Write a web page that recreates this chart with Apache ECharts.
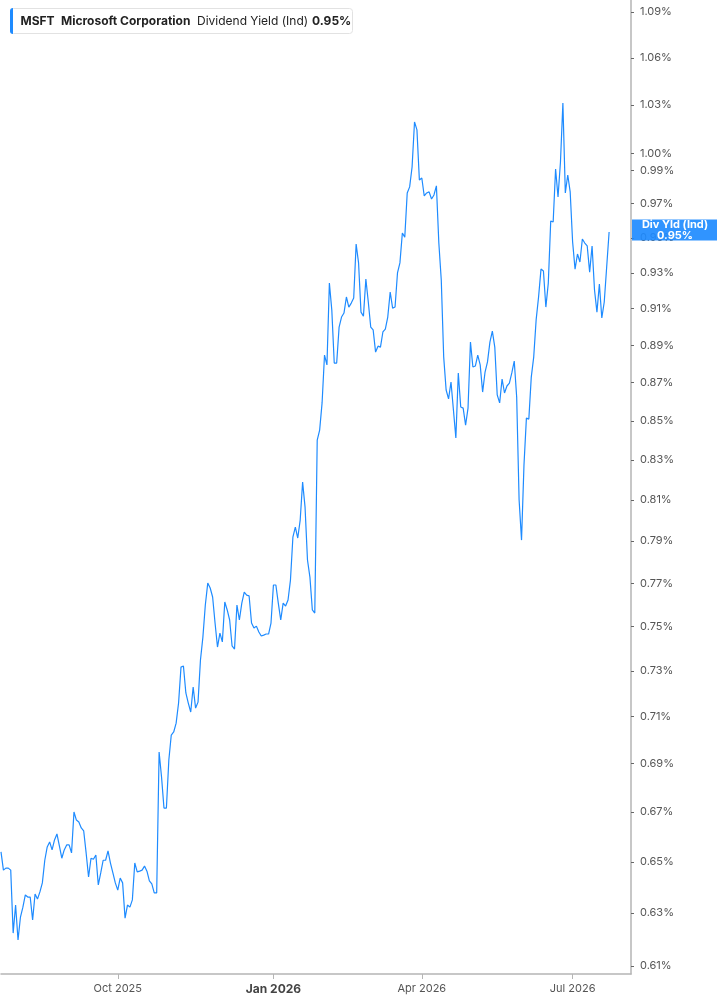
<!DOCTYPE html>
<html>
<head>
<meta charset="utf-8">
<script src="https://cdn.jsdelivr.net/npm/echarts@6/dist/echarts.min.js"></script>
<style>
    html, body { margin: 0; padding: 0; background: #fff; }
    #divYieldChart { width: 717px; height: 1005px; }
</style>
</head>
<body>
<div id="divYieldChart"></div>
<script>
const ticker = "MSFT";
const companyName = "Microsoft Corporation";
const metricName = "Dividend Yield (Ind)";
const pointerName = "Div Yld (Ind)";

// trading days: weekdays minus US market holidays
const firstDay = "2025-07-24";
const lastDay = "2026-08-05";
const holidays = [
    "2025-09-01", "2025-11-27", "2025-12-25", "2026-01-01", "2026-01-19",
    "2026-02-16", "2026-04-03", "2026-05-25", "2026-06-19", "2026-07-03"
];

// daily dividend yield, %
const yieldValues = [
    0.6539, 0.6467, 0.6475, 0.6475, 0.6467, 0.6224, 0.6331, 0.6198, 0.6285, 0.6323,
    0.6370, 0.6362, 0.6362, 0.6274, 0.6374, 0.6354, 0.6382, 0.6417, 0.6506, 0.6559,
    0.6579, 0.6547, 0.6587, 0.6611, 0.6563, 0.6514, 0.6547, 0.6567, 0.6567, 0.6535,
    0.6700, 0.6667, 0.6659, 0.6635, 0.6623, 0.6535, 0.6440, 0.6514, 0.6510, 0.6527,
    0.6409, 0.6456, 0.6506, 0.6506, 0.6543, 0.6495, 0.6456, 0.6417, 0.6389, 0.6436,
    0.6417, 0.6281, 0.6331, 0.6323, 0.6351, 0.6495, 0.6460, 0.6463, 0.6467, 0.6483,
    0.6463, 0.6425, 0.6413, 0.6378, 0.6378, 0.6949, 0.6844, 0.6716, 0.6716, 0.6915,
    0.7021, 0.7034, 0.7072, 0.7159, 0.7317, 0.7322, 0.7203, 0.7159, 0.7120, 0.7229,
    0.7137, 0.7163, 0.7349, 0.7452, 0.7599, 0.7701, 0.7678, 0.7636, 0.7516, 0.7407,
    0.7470, 0.7430, 0.7613, 0.7576, 0.7530, 0.7412, 0.7398, 0.7599, 0.7530, 0.7608,
    0.7659, 0.7645, 0.7641, 0.7516, 0.7493, 0.7502, 0.7475, 0.7457, 0.7461, 0.7466,
    0.7466, 0.7516, 0.7692, 0.7692, 0.7608, 0.7530, 0.7608, 0.7594, 0.7622, 0.7715,
    0.7919, 0.7968, 0.7915, 0.8002, 0.8189, 0.8065, 0.7810, 0.7729, 0.7576, 0.7562,
    0.8401, 0.8452, 0.8593, 0.8847, 0.8794, 0.9243, 0.9092, 0.8804, 0.8804, 0.8999,
    0.9054, 0.9076, 0.9165, 0.9109, 0.9131, 0.9159, 0.9465, 0.9357, 0.9081, 0.9059,
    0.9266, 0.9137, 0.8999, 0.8983, 0.8863, 0.8895, 0.8890, 0.8972, 0.8988, 0.9054,
    0.9193, 0.9103, 0.9109, 0.9300, 0.9357, 0.9529, 0.9505, 0.9764, 0.9800, 0.9919,
    1.0195, 1.0146, 0.9841, 0.9853, 0.9746, 0.9764, 0.9770, 0.9728, 0.9752, 0.9806,
    0.9471, 0.9260, 0.8836, 0.8661, 0.8614, 0.8703, 0.8556, 0.8412, 0.8751, 0.8572,
    0.8566, 0.8478, 0.8566, 0.8917, 0.8783, 0.8788, 0.8847, 0.8794, 0.8650, 0.8756,
    0.8810, 0.8917, 0.8977, 0.8890, 0.8635, 0.8593, 0.8719, 0.8645, 0.8682, 0.8697,
    0.8751, 0.8815, 0.8624, 0.8100, 0.7905, 0.8274, 0.8514, 0.8509, 0.8729, 0.8836,
    0.9038, 0.9165, 0.9322, 0.9311, 0.9109, 0.9243, 0.9599, 0.9593, 0.9907, 0.9740,
    0.9949, 1.0313, 0.9764, 0.9871, 0.9770, 0.9477, 0.9322, 0.9408, 0.9362, 0.9494,
    0.9471, 0.9454, 0.9305, 0.9454, 0.9204, 0.9081, 0.9238, 0.9049, 0.9137, 0.9334,
    0.9535
];

const yTickValues = [
    1.09, 1.06, 1.03, 1.00, 0.99, 0.97, 0.95, 0.93, 0.91, 0.89, 0.87, 0.85,
    0.83, 0.81, 0.79, 0.77, 0.75, 0.73, 0.71, 0.69, 0.67, 0.65, 0.63, 0.61
];
const yMin = 0.6071;
const yMax = 1.098;

const monthNames = ["Jan", "Feb", "Mar", "Apr", "May", "Jun", "Jul", "Aug", "Sep", "Oct", "Nov", "Dec"];
const labelMonths = [0, 3, 6, 9];

function buildTradingDays(from, to, skip) {
    const days = [];
    const d = new Date(from + "T00:00:00Z");
    const end = new Date(to + "T00:00:00Z");
    while (d <= end) {
        const key = d.toISOString().slice(0, 10);
        const wd = d.getUTCDay();
        if (wd !== 0 && wd !== 6 && !skip.includes(key)) days.push(key);
        d.setUTCDate(d.getUTCDate() + 1);
    }
    return days;
}

function renderDivYieldChart() {
    const dom = document.getElementById("divYieldChart");
    const chart = echarts.init(dom);

    const days = buildTradingDays(firstDay, lastDay, holidays);
    // first trading day of each quarter gets a label
    const labelIdx = new Set();
    days.forEach((d, i) => {
        if (i === 0) return;
        const m = Number(d.slice(5, 7)) - 1;
        if (d.slice(5, 7) !== days[i - 1].slice(5, 7) && labelMonths.includes(m)) labelIdx.add(i);
    });

    const lastValue = yieldValues[yieldValues.length - 1];
    const fontFamily = "Inter, 'Noto Sans', sans-serif";
    const blue = "#1e8bff";

    const legendBox = {
        id: "legendBox",
        type: "group",
        left: 10,
        top: 8,
        children: [
            {
                type: "rect",
                shape: { x: 0.5, y: 0.5, width: 342, height: 25, r: 3 },
                style: { fill: "#fff", stroke: "#e2e2e2", lineWidth: 1 }
            },
            {
                type: "rect",
                shape: { x: 0, y: 0, width: 3, height: 26, r: [3, 0, 0, 3] },
                style: { fill: blue }
            },
            {
                type: "text",
                x: 10.5, y: 13,
                style: { text: ticker, font: "bold 12px " + fontFamily, fill: "#222", verticalAlign: "middle" }
            },
            {
                type: "text",
                x: 51, y: 13,
                style: { text: companyName, font: "bold 12px " + fontFamily, fill: "#222", verticalAlign: "middle" }
            },
            {
                type: "text",
                x: 187, y: 13,
                style: { text: metricName, font: "12px " + fontFamily, fill: "#222", verticalAlign: "middle" }
            },
            {
                type: "text",
                x: 302, y: 13,
                style: { text: lastValue.toFixed(2) + "%", font: "bold 12px " + fontFamily, fill: "#222", verticalAlign: "middle" }
            }
        ]
    };

    chart.setOption({
        animation: false,
        textStyle: { fontFamily: fontFamily },
        grid: { left: 1, right: 86, top: 0, bottom: 31 },
        xAxis: {
            type: "category",
            data: days,
            boundaryGap: false,
            axisLine: { lineStyle: { color: "#b5b5b5", width: 1.5 } },
            axisTick: {
                interval: i => labelIdx.has(i),
                length: 5,
                lineStyle: { color: "#b5b5b5" }
            },
            axisLabel: {
                interval: i => labelIdx.has(i),
                margin: 9,
                color: "#555",
                fontSize: 11,
                fontFamily: fontFamily,
                formatter: function (value) {
                    const m = Number(value.slice(5, 7)) - 1;
                    const text = monthNames[m] + " " + value.slice(0, 4);
                    return m === 0 ? "{yr|" + text + "}" : text;
                },
                rich: {
                    yr: { fontWeight: "bold", fontSize: 12, color: "#444", fontFamily: fontFamily }
                }
            },
            splitLine: { show: false }
        },
        yAxis: {
            type: "log",
            logBase: 10,
            position: "right",
            min: yMin,
            max: yMax,
            axisLine: { show: true, lineStyle: { color: "#b5b5b5", width: 1.5 } },
            axisTick: {
                show: true,
                customValues: yTickValues,
                length: 3,
                lineStyle: { color: "#666" }
            },
            axisLabel: {
                customValues: yTickValues,
                margin: 9,
                color: "#555",
                fontSize: 11,
                fontFamily: fontFamily,
                formatter: v => Number(v).toFixed(2) + "%"
            },
            splitLine: { show: false }
        },
        series: [{
            name: metricName,
            type: "line",
            data: yieldValues,
            showSymbol: false,
            symbol: "none",
            lineStyle: { color: blue, width: 1.2 },
            itemStyle: { color: blue }
        }],
        graphic: [legendBox]
    });

    // last-value tag on the y axis, placed through the axis scale
    const tagY = chart.convertToPixel({ yAxisIndex: 0 }, lastValue) - 2;
    const axisX = chart.convertToPixel({ xAxisIndex: 0 }, days[days.length - 1]);
    const lastTag = {
        id: "lastTag",
        type: "group",
        x: axisX + 1,
        y: tagY,
        children: [
            {
                type: "rect",
                z: 200,
                shape: { x: 0, y: -10.5, width: 86, height: 21 },
                style: { fill: blue, opacity: 0.92 }
            },
            {
                type: "text",
                z: 201,
                x: 43, y: -5,
                style: { text: pointerName, font: "bold 11px " + fontFamily, fill: "#fff", align: "center", verticalAlign: "middle" }
            },
            {
                type: "text",
                z: 201,
                x: 43, y: 5.5,
                style: { text: lastValue.toFixed(2) + "%", font: "bold 11px " + fontFamily, fill: "#fff", align: "center", verticalAlign: "middle" }
            }
        ]
    };
    chart.setOption({ graphic: [legendBox, lastTag] });
}

renderDivYieldChart();
</script>
</body>
</html>
